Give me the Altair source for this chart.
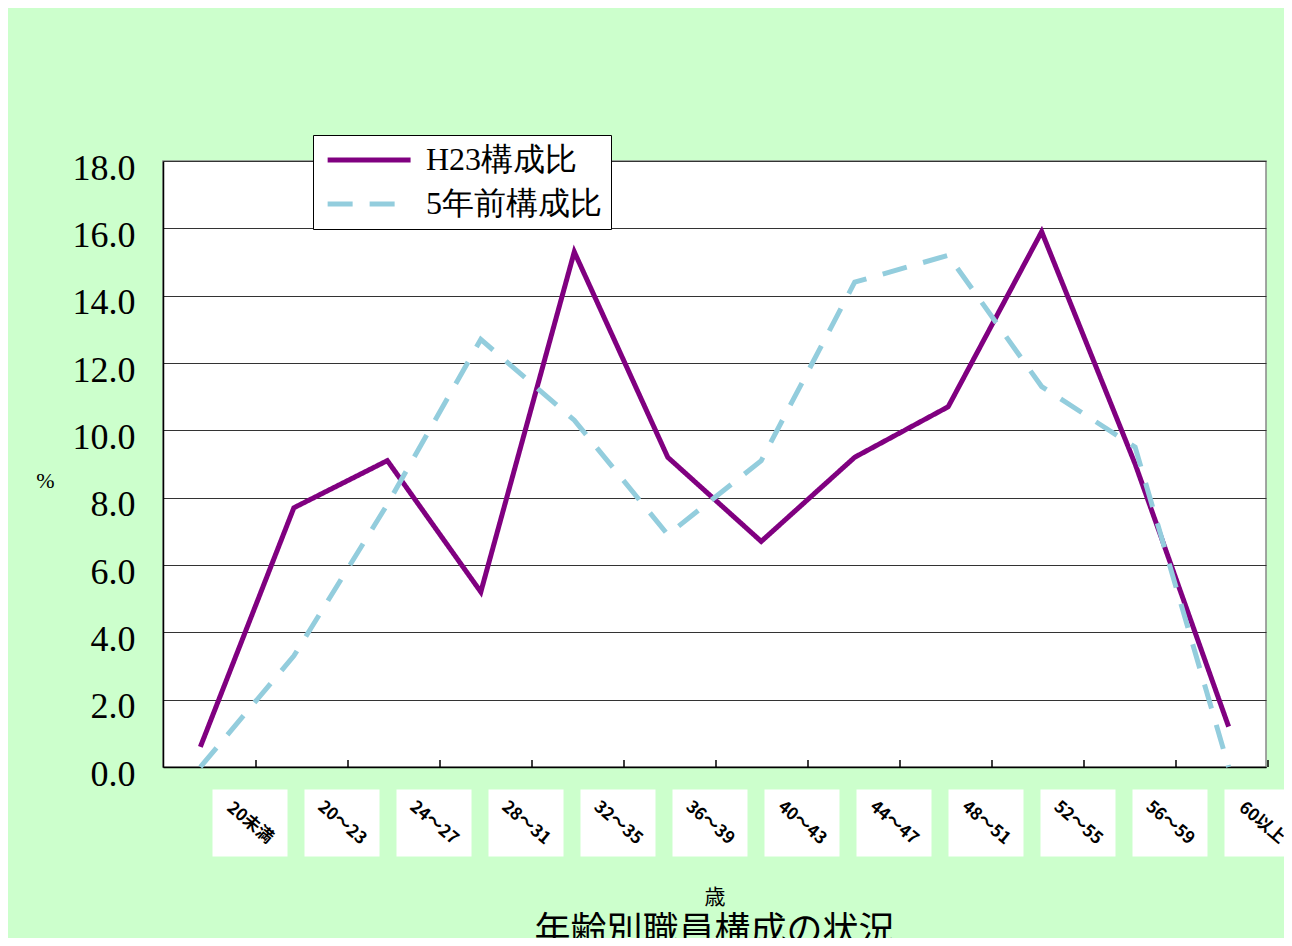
import altair as alt
import pandas as pd

# ---- data ----
categories = ["20未満", "20～23", "24～27", "28～31", "32～35", "36～39",
              "40～43", "44～47", "48～51", "52～55", "56～59", "60以上"]
h23_values = [0.6, 7.7, 9.1, 5.2, 15.3, 9.2, 6.7, 9.2, 10.7, 15.9, 9.0, 1.2]
prev5_values = [0.0, 3.3, 7.8, 12.7, 10.3, 6.9, 9.1, 14.4, 15.2, 11.3, 9.5, 0.0]
series_names = ["H23構成比", "5年前構成比"]
series_colors = ["#800080", "#93CDDD"]
y_ticks = [0, 2, 4, 6, 8, 10, 12, 14, 16, 18]

rows = []
for name, vals in zip(series_names, [h23_values, prev5_values]):
    for cat, v in zip(categories, vals):
        rows.append({"年齢": cat, "系列": name, "値": v})
df = pd.DataFrame(rows)
label_df = pd.DataFrame({"年齢": categories})

W, H = 1103, 606

legend_def = alt.Legend(
    orient="none", legendX=150, legendY=-26, title=None,
    fillColor="white", strokeColor="black", padding=9,
    symbolType="M-1,0H7", symbolSize=430, symbolStrokeWidth=5,
    symbolFillColor="transparent",
    labelFont="Liberation Serif", labelFontSize=32, labelColor="black",
    labelOffset=72, labelLimit=500, rowPadding=12,
)

lines = alt.Chart(df).mark_line(strokeWidth=5, strokeJoin="miter").encode(
    x=alt.X("年齢:N", sort=categories,
            scale=alt.Scale(type="point", padding=0.4),
            axis=alt.Axis(labels=False, ticks=False, grid=False,
                          domainColor="black", domainWidth=1.5,
                          title="歳", titleFont="Noto Sans CJK JP",
                          titleFontSize=21, titleFontWeight="normal",
                          titleColor="black", titleBaseline="middle",
                          titleY=130)),
    y=alt.Y("値:Q", scale=alt.Scale(domain=[0, 18], nice=False, zero=True),
            axis=alt.Axis(values=y_ticks, format=".1f", ticks=False,
                          labelFont="Liberation Serif", labelFontSize=36,
                          labelColor="black", labelPadding=28, labelOffset=7,
                          domainColor="black", domainWidth=1.5,
                          grid=True, gridColor="#333333", gridWidth=1,
                          title="%", titleAngle=0, titleX=-118, titleY=319,
                          titleAlign="center", titleBaseline="middle",
                          titleFont="Liberation Serif", titleFontSize=22,
                          titleFontWeight="normal", titleColor="black")),
    color=alt.Color("系列:N", scale=alt.Scale(domain=series_names, range=series_colors),
                    legend=legend_def),
    strokeDash=alt.StrokeDash("系列:N",
                              scale=alt.Scale(domain=series_names,
                                              range=[[1, 0], [25, 17]]),
                              legend=legend_def),
    detail="系列:N",
)

label_x = alt.X("年齢:N", sort=categories,
                scale=alt.Scale(type="point", padding=0.4946, align=0.956),
                axis=None)

boxes = alt.Chart(label_df).mark_point(
    shape="M-1,-0.893H1V0.893H-1Z", size=75 * 75, filled=True,
    fill="white", stroke=None, opacity=1
).encode(x=label_x, y=alt.value(662))

labels = alt.Chart(label_df).mark_text(
    angle=40, fontSize=17, font="Noto Sans CJK JP", fontWeight="bold",
    color="black", align="center", baseline="middle"
).encode(x=label_x, y=alt.value(662), text="年齢:N")

xticks = alt.Chart(label_df).mark_rule(color="black", strokeWidth=1.5, xOffset=6).encode(
    x=label_x, y=alt.value(H - 7), y2=alt.value(H)
)

chart = alt.layer(lines, boxes, labels, xticks).resolve_scale(
    x="independent"
).properties(
    width=W, height=H,
    autosize=alt.AutoSizeParams(type="none"),
    padding={"left": 155, "top": 153, "right": 18, "bottom": 171},
    background="#CCFFCC",
    title=alt.Title("年齢別職員構成の状況", orient="bottom", anchor="middle",
                    frame="group", offset=8, font="Noto Sans CJK JP",
                    fontSize=36, fontWeight="normal", color="black",
                    baseline="top"),
).configure_view(fill="white", stroke="#888888", strokeWidth=1.5)

chart.save("out.html", embed_options={"renderer": "svg", "actions": False})
